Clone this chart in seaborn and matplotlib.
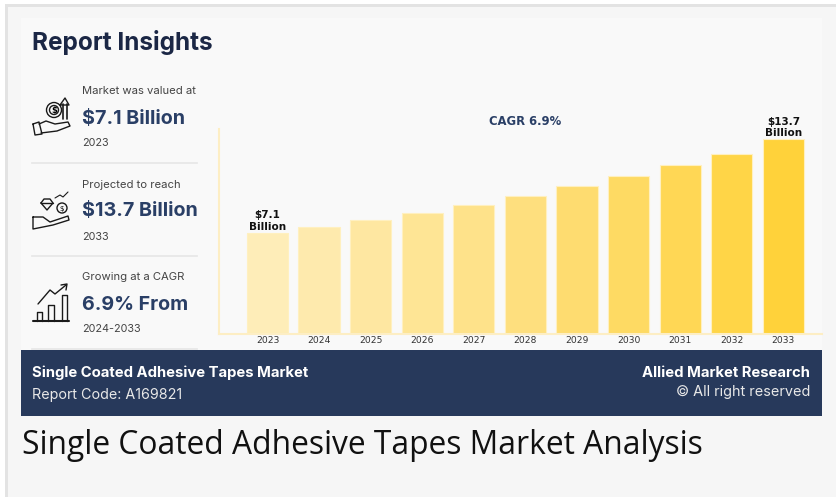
"""Market size bar chart with a report-insights side panel."""

import matplotlib
matplotlib.use('Agg')
import matplotlib.pyplot as plt
from matplotlib.patches import Circle, Rectangle
import pandas as pd
import seaborn as sns


# ===== Data =====
YEARS = ['2023', '2024', '2025', '2026', '2027', '2028',
         '2029', '2030', '2031', '2032', '2033']
VALUES = [7.1, 7.5, 8.0, 8.5, 9.1, 9.7, 10.4, 11.1, 11.9, 12.7, 13.7]
BAR_LABELS = {0: '$7.1\nBillion', 10: '$13.7\nBillion'}

INSIGHTS = [
    ('Market was valued at', '$7.1 Billion', '2023', 91, 119, 143.5),
    ('Projected to reach', '$13.7 Billion', '2033', 184.5, 211, 237.5),
    ('Growing at a CAGR', '6.9% From', '2024-2033', 277, 305, 329.5),
]

# ===== Colours =====
PAGE = '#f6f6f6'
PANEL = '#f9f9f9'
NAVY = '#27395b'
NUMBER = '#2a3f66'
TITLE = '#1b2745'
AXIS = '#fdeec4'
W, H = 836, 497


def polyline(ax, points, lw=1.0):
    xs, ys = zip(*points)
    ax.plot(xs, ys, color='#1a1a1a', lw=lw, solid_capstyle='round')


def draw_icons(ax):
    # hand with coin and arrow
    polyline(ax, [(33, 124), (39, 122), (42, 134), (35, 135), (33, 124)])
    polyline(ax, [(39, 124), (46, 121), (55, 124), (68, 122), (70, 126),
                  (57, 131), (41, 133)])
    ax.add_patch(Circle((54, 110), 7.5, fill=False, ec='#1a1a1a', lw=1.0))
    ax.add_patch(Circle((54, 110), 4.5, fill=False, ec='#1a1a1a', lw=1.0))
    ax.text(54, 110.5, '$', fontsize=6, fontweight='bold', ha='center', va='center')
    polyline(ax, [(63, 119), (63, 104)], lw=1.2)
    polyline(ax, [(67, 119), (67, 104)], lw=1.2)
    polyline(ax, [(60, 105), (65, 98), (69, 105), (60, 105)])

    # hand with diamond and coin
    polyline(ax, [(41, 203), (44, 199), (50, 199), (53, 203), (47, 210), (41, 203)])
    polyline(ax, [(41, 203), (53, 203)])
    ax.add_patch(Circle((62, 208), 5, fill=False, ec='#1a1a1a', lw=1.0))
    ax.text(62, 208.5, '$', fontsize=5, ha='center', va='center')
    polyline(ax, [(55, 198), (60, 195), (63, 197), (68, 192)], lw=0.8)
    polyline(ax, [(33, 217), (43, 217), (50, 222), (68, 216), (69, 220),
                  (53, 225), (33, 229), (33, 217)])

    # growth chart
    polyline(ax, [(33, 321), (69, 321)], lw=1.5)
    polyline(ax, [(37, 321), (37, 312), (42, 312), (42, 321)])
    polyline(ax, [(48, 321), (48, 305), (54, 305), (54, 321)])
    polyline(ax, [(62, 321), (62, 295), (67, 295), (67, 321)])
    polyline(ax, [(38, 304), (50, 290), (55, 294), (66, 285)])
    polyline(ax, [(61, 285), (67, 284), (66, 290)])


def draw_background(ax):
    ax.set_xlim(0, W)
    ax.set_ylim(H, 0)
    ax.axis('off')
    # outer card border, then inner panel and footer band
    ax.add_patch(Rectangle((0, 0), W, 4, fc='white', ec='none'))
    ax.add_patch(Rectangle((0, 0), 5, H, fc='white', ec='none'))
    ax.add_patch(Rectangle((5, 4), W, 3, fc='#e3e3e3', ec='none'))
    ax.add_patch(Rectangle((5, 4), 3, H, fc='#e3e3e3', ec='none'))
    ax.add_patch(Rectangle((21, 18), 801, 333, fc=PANEL, ec='none'))
    ax.add_patch(Rectangle((21, 350), 801, 65.5, fc=NAVY, ec='none'))

    ax.text(32, 42.5, 'Report Insights', fontsize=17.5, fontweight='bold',
            family='Inter', color=TITLE, va='center')

    for label, number, year, y1, y2, y3 in INSIGHTS:
        ax.text(82, y1, label, fontsize=8.1, family='Inter', color='#444444', va='center')
        ax.text(82, y2, number, fontsize=14.2, fontweight='bold', family='Inter',
                color=NUMBER, va='center')
        ax.text(82, y3, year, fontsize=7.8, family='Inter', color='#444444', va='center')
    for y in [163, 256, 349]:
        ax.plot([32, 197], [y, y], color='#e6e6e6', lw=1.2)

    draw_icons(ax)

    ax.text(32, 373, 'Single Coated Adhesive Tapes Market', fontsize=10.7, fontweight='bold',
            family='Inter', color='white', va='center')
    ax.text(32, 395, 'Report Code: A169821', fontsize=10.3, family='Inter',
            color='#e8e8e8', va='center')
    ax.text(810, 373, 'Allied Market Research', fontsize=10.7, fontweight='bold',
            family='Inter', color='white', va='center', ha='right')
    ax.text(810, 392, '© All right reserved', fontsize=10.4, family='Inter',
            color='#e8e8e8', va='center', ha='right')
    ax.text(22, 445, 'Single Coated Adhesive Tapes Market Analysis', fontsize=22.85,
            family='Open Sans', color='#111111', va='center')


def draw_chart(ax):
    df = pd.DataFrame({'year': YEARS, 'value': VALUES})
    palette = sns.blend_palette(['#feedb8', '#fedf7e', '#ffd23a'], len(YEARS))
    sns.barplot(data=df, x='year', y='value', hue='year', palette=palette,
                legend=False, width=0.8, edgecolor='#fff0c0', linewidth=0.8,
                saturation=1, ax=ax)
    ax.set_xlim(-0.94, 10.75)
    ax.set_ylim(0, 14.44)
    ax.set_xlabel('')
    ax.set_ylabel('')
    ax.set_yticks([])
    ax.tick_params(axis='x', length=0, labelsize=6.6, labelcolor='#333333', pad=1.5)
    ax.patch.set_alpha(0)
    sns.despine(ax=ax)
    for side in ['left', 'bottom']:
        ax.spines[side].set_color(AXIS)
        ax.spines[side].set_linewidth(1.5)

    for i, label in BAR_LABELS.items():
        ax.text(i, VALUES[i] + 0.1, label, ha='center', va='bottom', fontsize=7.5,
                fontweight='bold', color='#111111', linespacing=1.15)
    ax.text(4.99, 15.0, 'CAGR 6.9%', ha='center', va='center',
            fontsize=8.4, fontweight='bold', color=NUMBER, clip_on=False)


def main():
    fig = plt.figure(figsize=(W / 100, H / 100), dpi=100, facecolor=PAGE)

    bg = fig.add_axes([0, 0, 1, 1])
    draw_background(bg)

    # chart area: x 219-822, y 129-333.5 in image pixels
    ax = fig.add_axes([219 / W, 1 - 333.5 / H, 603 / W, 204.5 / H])
    draw_chart(ax)

    fig.savefig('out.png', dpi=100, facecolor=PAGE)
    plt.close(fig)


if __name__ == '__main__':
    main()
